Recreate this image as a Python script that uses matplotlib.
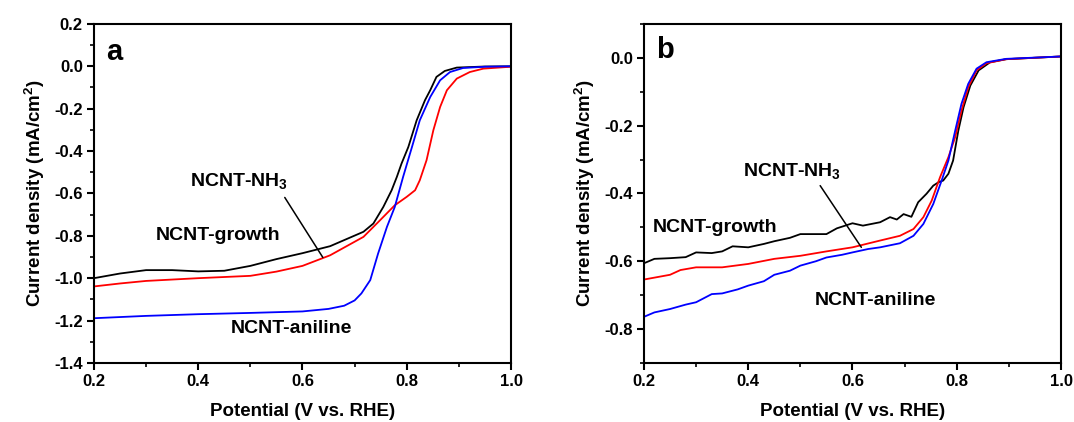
import matplotlib
matplotlib.use("Agg")
import matplotlib.pyplot as plt
from matplotlib.ticker import MultipleLocator, FormatStrFormatter

plt.rcParams.update({
    "font.family": "Liberation Sans", "font.weight": "bold", "font.size": 12,
    "axes.labelweight": "bold", "axes.linewidth": 1.5,
    "mathtext.fontset": "custom", "mathtext.rm": "Liberation Sans:bold",
    "mathtext.bf": "Liberation Sans:bold", "mathtext.default": "bf",
})

# panel a: RDE polarisation curves
a_growth_x = [0.2, 0.25, 0.3, 0.35, 0.4, 0.45, 0.5, 0.55, 0.6, 0.653, 0.717, 0.736, 0.755, 0.771, 0.781, 0.79, 0.803, 0.819, 0.835, 0.845, 0.857, 0.873, 0.896, 0.95, 1.0]
a_growth_y = [-1.0, -0.978, -0.962, -0.962, -0.968, -0.965, -0.942, -0.91, -0.882, -0.849, -0.781, -0.742, -0.664, -0.585, -0.522, -0.459, -0.381, -0.255, -0.16, -0.113, -0.05, -0.022, -0.006, -0.001, 0.0]
a_nh3_x = [0.2, 0.25, 0.3, 0.4, 0.5, 0.55, 0.6, 0.653, 0.717, 0.749, 0.777, 0.8, 0.816, 0.825, 0.838, 0.851, 0.864, 0.877, 0.896, 0.921, 0.947, 1.0]
a_nh3_y = [-1.039, -1.025, -1.013, -1.0, -0.989, -0.969, -0.942, -0.892, -0.805, -0.726, -0.656, -0.616, -0.585, -0.538, -0.443, -0.302, -0.192, -0.113, -0.058, -0.027, -0.011, -0.002]
a_aniline_x = [0.2, 0.3, 0.4, 0.5, 0.6, 0.65, 0.68, 0.7, 0.713, 0.73, 0.745, 0.762, 0.777, 0.793, 0.81, 0.825, 0.845, 0.864, 0.883, 0.908, 0.95, 1.0]
a_aniline_y = [-1.189, -1.178, -1.17, -1.164, -1.157, -1.145, -1.13, -1.105, -1.072, -1.009, -0.884, -0.758, -0.664, -0.522, -0.381, -0.255, -0.145, -0.066, -0.027, -0.008, -0.002, 0.0]

# panel b
b_growth_x = [0.2, 0.22, 0.25, 0.28, 0.3, 0.33, 0.35, 0.37, 0.4, 0.43, 0.45, 0.48, 0.5, 0.52, 0.55, 0.57, 0.6, 0.62, 0.653, 0.672, 0.685, 0.698, 0.713, 0.726, 0.742, 0.755, 0.765, 0.774, 0.784, 0.793, 0.803, 0.813, 0.826, 0.842, 0.864, 0.895, 1.0]
b_growth_y = [-0.606, -0.593, -0.591, -0.588, -0.574, -0.576, -0.571, -0.556, -0.559, -0.549, -0.541, -0.531, -0.52, -0.52, -0.52, -0.503, -0.488, -0.495, -0.485, -0.47, -0.477, -0.461, -0.469, -0.426, -0.401, -0.377, -0.367, -0.362, -0.342, -0.303, -0.215, -0.146, -0.082, -0.037, -0.013, -0.004, 0.004]
b_nh3_x = [0.2, 0.25, 0.27, 0.3, 0.35, 0.4, 0.45, 0.5, 0.55, 0.6, 0.653, 0.691, 0.717, 0.736, 0.752, 0.768, 0.784, 0.797, 0.809, 0.822, 0.838, 0.857, 0.895, 1.0]
b_nh3_y = [-0.654, -0.64, -0.626, -0.618, -0.618, -0.608, -0.593, -0.584, -0.571, -0.559, -0.539, -0.525, -0.505, -0.47, -0.421, -0.352, -0.293, -0.234, -0.156, -0.087, -0.037, -0.016, -0.004, 0.004]
b_aniline_x = [0.2, 0.22, 0.25, 0.28, 0.3, 0.33, 0.35, 0.38, 0.4, 0.43, 0.45, 0.48, 0.5, 0.53, 0.55, 0.58, 0.6, 0.63, 0.653, 0.691, 0.717, 0.736, 0.755, 0.771, 0.784, 0.797, 0.809, 0.822, 0.838, 0.857, 0.895, 1.0]
b_aniline_y = [-0.764, -0.751, -0.741, -0.728, -0.721, -0.697, -0.695, -0.683, -0.672, -0.659, -0.64, -0.628, -0.613, -0.6, -0.589, -0.581, -0.574, -0.564, -0.559, -0.547, -0.525, -0.49, -0.431, -0.362, -0.303, -0.215, -0.136, -0.077, -0.032, -0.013, -0.003, 0.004]

labels = ["NCNT-growth", r"NCNT-NH$_3$", "NCNT-aniline"]

fig = plt.figure(figsize=(10.74, 4.22), dpi=100)
ax_a = fig.add_axes([0.0875, 0.140, 0.3883, 0.8033])
ax_b = fig.add_axes([0.5996, 0.140, 0.3883, 0.8033])

for ax, data in [
    (ax_a, [(a_growth_x, a_growth_y, "black"), (a_nh3_x, a_nh3_y, "red"), (a_aniline_x, a_aniline_y, "blue")]),
    (ax_b, [(b_growth_x, b_growth_y, "black"), (b_nh3_x, b_nh3_y, "red"), (b_aniline_x, b_aniline_y, "blue")]),
]:
    for x, y, c in data:
        ax.plot(x, y, color=c, lw=1.3)
    ax.set_xlim(0.2, 1.0)
    ax.xaxis.set_major_locator(MultipleLocator(0.2)); ax.xaxis.set_minor_locator(MultipleLocator(0.1))
    ax.yaxis.set_major_locator(MultipleLocator(0.2)); ax.yaxis.set_minor_locator(MultipleLocator(0.1))
    ax.tick_params(which="major", length=5, width=1.5, labelsize=12, pad=3)
    ax.tick_params(which="minor", length=3, width=1.2)
    ax.set_xlabel("Potential (V vs. RHE)", fontsize=13.5, labelpad=10)
    ax.set_ylabel(r"Current density (mA/cm$^2$)", fontsize=13.5, labelpad=5)
    ax.xaxis.set_major_formatter(FormatStrFormatter("%.1f"))
    ax.yaxis.set_major_formatter(FormatStrFormatter("%.1f"))

ax_a.set_ylim(-1.4, 0.2)
ax_b.set_ylim(-0.9, 0.1)
ax_b.set_yticks([0.0, -0.2, -0.4, -0.6, -0.8])

# panel a text
ax_a.text(0.223, 0.066, "a", fontsize=21, fontweight="bold", va="center")
ax_a.text(0.385, -0.54, labels[1], fontsize=14, va="center")
ax_a.text(0.319, -0.80, labels[0], fontsize=14, va="center")
ax_a.text(0.462, -1.238, labels[2], fontsize=14, va="center")
ax_a.annotate("", xy=(0.639, -0.902), xytext=(0.566, -0.619),
              arrowprops=dict(arrowstyle="-", color="black", lw=1.1, shrinkA=0, shrinkB=0))

# panel b text
ax_b.text(0.223, 0.022, "b", fontsize=21, fontweight="bold", va="center")
ax_b.text(0.39, -0.333, labels[1], fontsize=14, va="center")
ax_b.text(0.216, -0.50, labels[0], fontsize=14, va="center")
ax_b.text(0.527, -0.717, labels[2], fontsize=14, va="center")
ax_b.annotate("", xy=(0.617, -0.559), xytext=(0.538, -0.377),
              arrowprops=dict(arrowstyle="-", color="black", lw=1.1, shrinkA=0, shrinkB=0))

fig.savefig("out.png", dpi=100)
